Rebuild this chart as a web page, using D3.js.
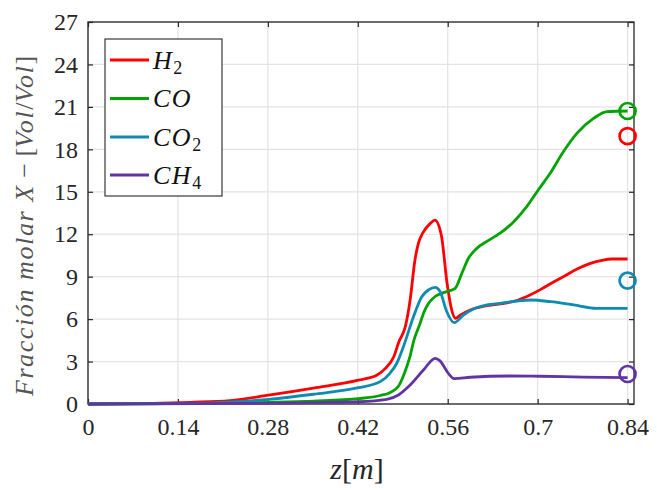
<!DOCTYPE html>
<html>
<head>
<meta charset="utf-8">
<script src="https://cdn.jsdelivr.net/npm/d3@7/dist/d3.min.js"></script>
<style>
  html, body { margin: 0; padding: 0; background: #fff; }
  svg { display: block; }
</style>
</head>
<body>
<svg id="chart" width="657" height="491"></svg>
<script>
// Axis ticks
const xTicks = [0, 0.14, 0.28, 0.42, 0.56, 0.7, 0.84];
const xTickLabels = ["0", "0.14", "0.28", "0.42", "0.56", "0.7", "0.84"];
const yTicks = [0, 3, 6, 9, 12, 15, 18, 21, 24, 27];

// Simulated profiles along the reactor (z in m, X in Vol/Vol)
const h2Z = [0, 0.10, 0.16, 0.221, 0.281, 0.351, 0.421, 0.45, 0.463, 0.476, 0.484, 0.494, 0.5015, 0.509, 0.514, 0.521, 0.533, 0.540, 0.550, 0.559, 0.565, 0.572, 0.580, 0.595, 0.621, 0.652, 0.670, 0.688, 0.705, 0.720, 0.740, 0.760, 0.780, 0.800, 0.815, 0.840];
const h2X = [0, 0.05, 0.12, 0.24, 0.62, 1.12, 1.68, 2.05, 2.52, 3.34, 4.4, 5.47, 7.35, 10.18, 11.3, 12.07, 12.77, 13.0, 11.95, 8.53, 6.88, 6.06, 6.29, 6.64, 6.95, 7.15, 7.35, 7.7, 8.1, 8.5, 9.0, 9.5, 9.9, 10.15, 10.25, 10.25];

const coZ = [0, 0.20, 0.28, 0.351, 0.421, 0.455, 0.470, 0.4833, 0.492, 0.5015, 0.5067, 0.517, 0.5222, 0.530, 0.5404, 0.5534, 0.5716, 0.582, 0.5923, 0.6053, 0.621, 0.6416, 0.662, 0.683, 0.701, 0.7195, 0.740, 0.761, 0.787, 0.808, 0.840];
const coX = [0, 0.05, 0.12, 0.21, 0.38, 0.6, 0.8, 1.25, 2.1, 3.4, 4.4, 5.7, 6.4, 7.1, 7.6, 7.87, 8.18, 9.24, 10.3, 11.0, 11.5, 12.07, 12.85, 13.95, 15.13, 16.31, 17.83, 19.13, 20.19, 20.67, 20.71];

const co2Z = [0, 0.12, 0.20, 0.281, 0.351, 0.421, 0.455, 0.470, 0.4807, 0.491, 0.5067, 0.5196, 0.530, 0.5404, 0.5482, 0.5586, 0.570, 0.5845, 0.600, 0.621, 0.642, 0.668, 0.690, 0.720, 0.756, 0.792, 0.840];
const co2X = [0, 0.02, 0.10, 0.33, 0.69, 1.15, 1.58, 2.17, 2.88, 4.05, 6.17, 7.58, 8.06, 8.25, 7.94, 6.52, 5.75, 6.29, 6.72, 7.0, 7.12, 7.28, 7.35, 7.23, 7.0, 6.76, 6.76];

const ch4Z = [0, 0.28, 0.351, 0.421, 0.465, 0.4833, 0.5015, 0.5222, 0.5404, 0.548, 0.561, 0.570, 0.595, 0.657, 0.704, 0.770, 0.840];
const ch4X = [0, 0.05, 0.10, 0.16, 0.33, 0.64, 1.34, 2.4, 3.23, 3.05, 2.17, 1.8, 1.89, 1.98, 1.96, 1.9, 1.86];

// Measured outlet composition
const outletZ = 0.84;
const outletX = [18.94, 20.71, 8.72, 2.12]; // H2, CO, CO2, CH4

const speciesNames = [["H", "2"], ["CO", ""], ["CO", "2"], ["CH", "4"]];
const speciesColors = ["#ff0000", "#00a300", "#0e8bb0", "#6134a4"];

const series = [
  { z: h2Z, x: h2X },
  { z: coZ, x: coX },
  { z: co2Z, x: co2X },
  { z: ch4Z, x: ch4X }
];

const serif = '"Liberation Serif", "Times New Roman", "DejaVu Serif", serif';

const svg = d3.select("#chart");
const plotL = 88, plotR = 634, plotT = 22, plotB = 404;

const xScale = d3.scaleLinear().domain([0, 0.85]).range([plotL, plotR]);
const yScale = d3.scaleLinear().domain([0, 27]).range([plotB, plotT]);

const axisColor = "#262626";
const gridColor = "#e3e3e3";

// Grid
const grid = svg.append("g");
grid.selectAll("line.gx").data(xTicks).enter().append("line")
  .attr("x1", d => xScale(d)).attr("x2", d => xScale(d))
  .attr("y1", plotT).attr("y2", plotB)
  .attr("stroke", gridColor).attr("stroke-width", 1.2);
grid.selectAll("line.gy").data(yTicks).enter().append("line")
  .attr("x1", plotL).attr("x2", plotR)
  .attr("y1", d => yScale(d)).attr("y2", d => yScale(d))
  .attr("stroke", gridColor).attr("stroke-width", 1.2);

// Axes (ticks point inward)
const xAxis = d3.axisBottom(xScale).tickValues(xTicks)
  .tickFormat((d, i) => xTickLabels[i]).tickSizeInner(-5).tickSizeOuter(0).tickPadding(14);
const yAxis = d3.axisLeft(yScale).tickValues(yTicks)
  .tickFormat(d3.format("d")).tickSizeInner(-5).tickSizeOuter(0).tickPadding(10);

const gx = svg.append("g").attr("transform", `translate(0,${plotB})`).call(xAxis);
const gy = svg.append("g").attr("transform", `translate(${plotL},0)`).call(yAxis);
const gxTop = svg.append("g").attr("transform", `translate(0,${plotT})`)
  .call(d3.axisTop(xScale).tickValues(xTicks).tickFormat("").tickSizeInner(-5).tickSizeOuter(0));
const gyRight = svg.append("g").attr("transform", `translate(${plotR},0)`)
  .call(d3.axisRight(yScale).tickValues(yTicks).tickFormat("").tickSizeInner(-5).tickSizeOuter(0));

[gx, gy, gxTop, gyRight].forEach(g => {
  g.attr("font-family", serif).attr("font-size", 24);
  g.select(".domain").remove();
  g.selectAll(".tick line").attr("stroke", axisColor).attr("stroke-width", 1.2);
  g.selectAll(".tick text").attr("fill", "#262626");
});
gx.selectAll(".tick text").attr("dy", "0.71em");

svg.append("rect")
  .attr("x", plotL).attr("y", plotT)
  .attr("width", plotR - plotL).attr("height", plotB - plotT)
  .attr("fill", "none").attr("stroke", axisColor).attr("stroke-width", 1.3);

// Profiles
const line = d3.line()
  .x(d => xScale(d[0]))
  .y(d => yScale(d[1]))
  .curve(d3.curveMonotoneX);

series.forEach((s, i) => {
  const pts = s.z.map((z, k) => [z, s.x[k]]);
  svg.append("path")
    .datum(pts)
    .attr("d", line)
    .attr("fill", "none")
    .attr("stroke", speciesColors[i])
    .attr("stroke-width", 2.8)
    .attr("stroke-linejoin", "round");
});

// Outlet markers
svg.selectAll("circle.outlet").data(outletX).enter().append("circle")
  .attr("cx", xScale(outletZ))
  .attr("cy", d => yScale(d))
  .attr("r", 8)
  .attr("fill", "none")
  .attr("stroke", (d, i) => speciesColors[i])
  .attr("stroke-width", 2.7);

// Legend
const lg = svg.append("g").attr("font-family", serif);
lg.append("rect")
  .attr("x", 105).attr("y", 39).attr("width", 117).attr("height", 157)
  .attr("fill", "#fff").attr("stroke", axisColor).attr("stroke-width", 1.1);
const rowY = [60, 98.5, 137, 175];
speciesNames.forEach((nm, i) => {
  lg.append("line")
    .attr("x1", 110).attr("x2", 149)
    .attr("y1", rowY[i]).attr("y2", rowY[i])
    .attr("stroke", speciesColors[i]).attr("stroke-width", 2.8);
  const t = lg.append("text")
    .attr("x", 153).attr("y", rowY[i] + 8.5)
    .attr("fill", "#111")
    .attr("font-size", 26);
  t.append("tspan").attr("font-style", "italic").attr("letter-spacing", "1.5px").text(nm[0]);
  if (nm[1]) {
    t.append("tspan").attr("dy", 5).attr("font-size", 18).text(nm[1]);
  }
});

// Axis titles
const xl = svg.append("text")
  .attr("x", 357).attr("y", 479)
  .attr("text-anchor", "middle")
  .attr("fill", "#262626")
  .attr("font-family", serif)
  .attr("font-size", 30);
xl.append("tspan").attr("font-style", "italic").text("z");
xl.append("tspan").text("[");
xl.append("tspan").attr("font-style", "italic").text("m");
xl.append("tspan").text("]");

const yl = svg.append("text")
  .attr("transform", "translate(33,226) rotate(-90)")
  .attr("text-anchor", "middle")
  .attr("fill", "#555")
  .attr("font-family", serif)
  .attr("font-size", 26);
yl.append("tspan").attr("font-style", "italic").attr("letter-spacing", "1.6px").text("Fracción molar X");
yl.append("tspan").text(" − [");
yl.append("tspan").attr("font-style", "italic").attr("letter-spacing", "1.6px").text("Vol");
yl.append("tspan").text("/");
yl.append("tspan").attr("font-style", "italic").attr("letter-spacing", "1.6px").text("Vol");
yl.append("tspan").text("]");
</script>
</body>
</html>
